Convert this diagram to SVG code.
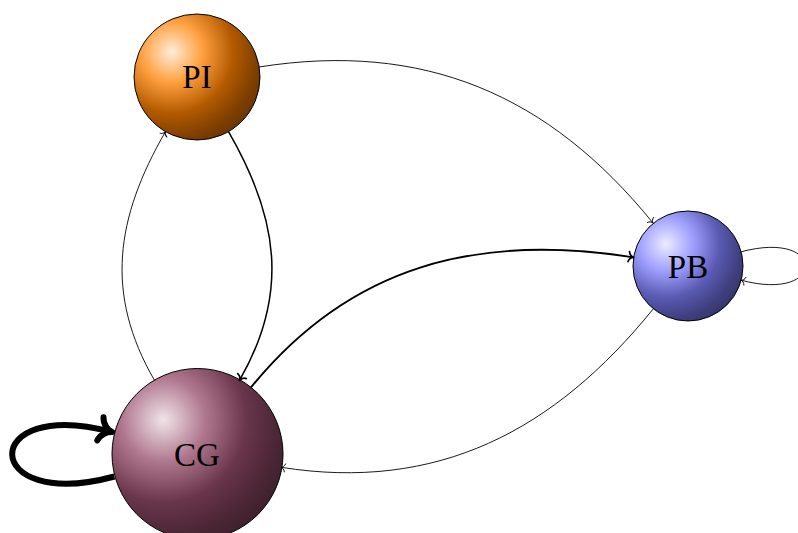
<svg xmlns="http://www.w3.org/2000/svg" width="798" height="533" viewBox="0 0 798 533">
<defs>
<radialGradient id="gPI" gradientUnits="objectBoundingBox" cx="0.3" cy="0.3" fx="0.3" fy="0.3" r="1.35">
<stop offset="0" stop-color="rgb(255,236,217)"/>
<stop offset="0.18" stop-color="rgb(255,160,64)"/>
<stop offset="0.36" stop-color="rgb(179,90,0)"/>
<stop offset="0.5" stop-color="rgb(128,64,0)"/>
<stop offset="1" stop-color="#000"/>
</radialGradient>
<radialGradient id="gPB" gradientUnits="objectBoundingBox" cx="0.3" cy="0.3" fx="0.3" fy="0.3" r="1.35">
<stop offset="0" stop-color="rgb(236,236,255)"/>
<stop offset="0.18" stop-color="rgb(160,160,255)"/>
<stop offset="0.36" stop-color="rgb(90,90,179)"/>
<stop offset="0.5" stop-color="rgb(64,64,128)"/>
<stop offset="1" stop-color="#000"/>
</radialGradient>
<radialGradient id="gCG" gradientUnits="objectBoundingBox" cx="0.3" cy="0.3" fx="0.3" fy="0.3" r="1.35">
<stop offset="0" stop-color="rgb(240,228,232)"/>
<stop offset="0.18" stop-color="rgb(176,120,143)"/>
<stop offset="0.36" stop-color="rgb(105,53,74)"/>
<stop offset="0.5" stop-color="rgb(75,38,53)"/>
<stop offset="1" stop-color="#000"/>
</radialGradient>
<marker id="aThin" markerUnits="userSpaceOnUse" orient="auto" refX="0" refY="0" markerWidth="20" markerHeight="20" overflow="visible">
<path d="M-4,-4 C-3.5,-1.6 -1.5,-0.3 0,0 C-1.5,0.3 -3.5,1.6 -4,4" fill="none" stroke="#000" stroke-width="0.9" stroke-linecap="round" stroke-linejoin="round"/>
</marker>
<marker id="aMed" markerUnits="userSpaceOnUse" orient="auto" refX="0" refY="0" markerWidth="20" markerHeight="20" overflow="visible">
<path d="M-5,-5 C-4.4,-2 -1.9,-0.4 0,0 C-1.9,0.4 -4.4,2 -5,5" fill="none" stroke="#000" stroke-width="1.7" stroke-linecap="round" stroke-linejoin="round"/>
</marker>
<marker id="aThick" markerUnits="userSpaceOnUse" orient="auto" refX="0" refY="0" markerWidth="40" markerHeight="40" overflow="visible">
<path d="M-12,-12 C-10.5,-5 -4.5,-1 0,0 C-4.5,1 -10.5,5 -12,12" fill="none" stroke="#000" stroke-width="6" stroke-linecap="round" stroke-linejoin="round"/>
</marker>
</defs>
<style>
.node circle{stroke:#000;stroke-width:1}
.node text{font-family:"Liberation Serif","DejaVu Serif",serif;font-size:33px;text-anchor:middle;fill:#000}
.edge{fill:none;stroke:#000}
.thin{stroke-width:0.9;marker-end:url(#aThin)}
.med{marker-end:url(#aMed)}
.thick{stroke-width:6;marker-end:url(#aThick)}
</style>
<g id="PI" class="node">
<circle cx="197" cy="77" r="63" fill="url(#gPI)"/>
<text x="197" y="88">PI</text>
</g>
<g id="PB" class="node">
<circle cx="688" cy="266" r="55" fill="url(#gPB)"/>
<text x="688" y="277.5">PB</text>
</g>
<g id="CG" class="node">
<circle cx="197.5" cy="454" r="85.5" fill="url(#gCG)"/>
<text x="197" y="466">CG</text>
</g>
<g id="connectors">
<path class="edge thin" d="M259,67 C423,41 548.5,94 653,223"/>
<path class="edge med" stroke-width="1.5" d="M228.5,131.6 C278.5,218 289.5,293.8 239.5,380.4"/>
<path class="edge thin" d="M154.5,380.4 C104.5,293.8 115.5,218.2 165.5,131.6"/>
<path class="edge med" stroke-width="1.9" d="M250.5,388 C350,265 477.7,232.7 633.7,257.4"/>
<path class="edge thin" d="M653.4,308.7 C554,431.5 437,492 281,467.3"/>
<path class="edge thin" d="M741.1,251.8 C827,228.8 827,303.2 741.1,280.2"/>
<path class="edge thick" d="M114.4,476.5 C-21,513 -22,396 112,432"/>
</g>
</svg>
